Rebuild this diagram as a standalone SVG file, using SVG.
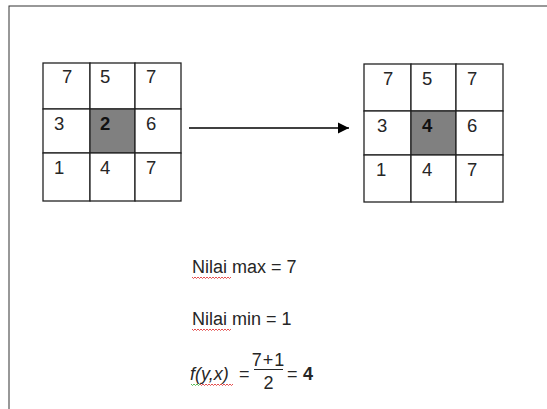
<svg xmlns="http://www.w3.org/2000/svg" width="547" height="409" viewBox="0 0 547 409">
<style>
.cell{fill:#fff;stroke:#222;stroke-width:1.3}
.shade{fill:#808080;stroke:#222;stroke-width:1.3}
.n{font-family:"Liberation Sans",Arial,sans-serif;font-size:18.5px;fill:#262626}
.b{font-weight:bold;fill:#111}
.t{font-family:"Liberation Sans",Arial,sans-serif;font-size:18px;fill:#262626}
.sq{fill:none;stroke:#d22;stroke-width:0.8}
</style>
<defs>
<marker id="ah" markerWidth="12" markerHeight="12" refX="11" refY="6" orient="auto" markerUnits="userSpaceOnUse">
<path d="M0,0.5 L11,6 L0,11.5 Z" fill="#000"/>
</marker>
</defs>
<rect x="0" y="0" width="547" height="409" fill="#fff"/>
<rect x="9" y="6" width="600" height="450" fill="none" stroke="#333" stroke-width="1"/>

<g id="grid-left">
<rect class="cell" x="43" y="63" width="47" height="46"/>
<rect class="cell" x="90" y="63" width="45" height="46"/>
<rect class="cell" x="135" y="63" width="46" height="46"/>
<rect class="cell" x="43" y="109" width="47" height="44"/>
<rect class="shade" x="90" y="109" width="45" height="44"/>
<rect class="cell" x="135" y="109" width="46" height="44"/>
<rect class="cell" x="43" y="153" width="47" height="48"/>
<rect class="cell" x="90" y="153" width="45" height="48"/>
<rect class="cell" x="135" y="153" width="46" height="48"/>
<text class="n" x="62" y="83">7</text>
<text class="n" x="100" y="83">5</text>
<text class="n" x="146" y="83">7</text>
<text class="n" x="54" y="130">3</text>
<text class="n b" x="100" y="130">2</text>
<text class="n" x="146" y="130">6</text>
<text class="n" x="54" y="174">1</text>
<text class="n" x="100" y="174">4</text>
<text class="n" x="146" y="174">7</text>
</g>

<g id="grid-right">
<rect class="cell" x="364" y="64" width="47" height="47"/>
<rect class="cell" x="411" y="64" width="45" height="47"/>
<rect class="cell" x="456" y="64" width="47" height="47"/>
<rect class="cell" x="364" y="111" width="47" height="44"/>
<rect class="shade" x="411" y="111" width="45" height="44"/>
<rect class="cell" x="456" y="111" width="47" height="44"/>
<rect class="cell" x="364" y="155" width="47" height="47"/>
<rect class="cell" x="411" y="155" width="45" height="47"/>
<rect class="cell" x="456" y="155" width="47" height="47"/>
<text class="n" x="383" y="85">7</text>
<text class="n" x="422" y="85">5</text>
<text class="n" x="467" y="85">7</text>
<text class="n" x="377" y="132">3</text>
<text class="n b" x="422" y="132">4</text>
<text class="n" x="467" y="132">6</text>
<text class="n" x="376" y="176">1</text>
<text class="n" x="422" y="176">4</text>
<text class="n" x="467" y="176">7</text>
</g>

<g id="connectors">
<line x1="189" y1="128" x2="349" y2="128" stroke="#000" stroke-width="1.3" marker-end="url(#ah)"/>
</g>

<g id="text">
<text class="t" x="192" y="273">Nilai max = 7</text>
<path class="sq" d="M192,277 l1.5,1.5 l1.5,-1.5 l1.5,1.5 l1.5,-1.5 l1.5,1.5 l1.5,-1.5 l1.5,1.5 l1.5,-1.5 l1.5,1.5 l1.5,-1.5 l1.5,1.5 l1.5,-1.5 l1.5,1.5 l1.5,-1.5 l1.5,1.5 l1.5,-1.5 l1.5,1.5 l1.5,-1.5 l1.5,1.5 l1.5,-1.5 l1.5,1.5 l1.5,-1.5 l1.5,1.5 l1.5,-1.5 l1.5,1.5 l1.5,-1.5"/>
<text class="t" x="192" y="325">Nilai min = 1</text>
<path class="sq" d="M192,329 l1.5,1.5 l1.5,-1.5 l1.5,1.5 l1.5,-1.5 l1.5,1.5 l1.5,-1.5 l1.5,1.5 l1.5,-1.5 l1.5,1.5 l1.5,-1.5 l1.5,1.5 l1.5,-1.5 l1.5,1.5 l1.5,-1.5 l1.5,1.5 l1.5,-1.5 l1.5,1.5 l1.5,-1.5 l1.5,1.5 l1.5,-1.5 l1.5,1.5 l1.5,-1.5 l1.5,1.5 l1.5,-1.5 l1.5,1.5 l1.5,-1.5"/>
<text class="t" x="190" y="380" font-style="italic">f(y,x)</text>
<path fill="none" stroke="#3a3" stroke-width="0.8" d="M191,384 l1.5,1.5 l1.5,-1.5 l1.5,1.5 l1.5,-1.5 l1.5,1.5 l1.5,-1.5"/>
<path class="sq" d="M200,384 l1.5,1.5 l1.5,-1.5 l1.5,1.5 l1.5,-1.5 l1.5,1.5 l1.5,-1.5 l1.5,1.5 l1.5,-1.5 l1.5,1.5 l1.5,-1.5 l1.5,1.5 l1.5,-1.5 l1.5,1.5 l1.5,-1.5 l1.5,1.5 l1.5,-1.5 l1.5,1.5 l1.5,-1.5 l1.5,1.5 l1.5,-1.5 l1.5,1.5 l1.5,-1.5"/>
<text class="t" x="239" y="380">=</text>
<text class="t" x="268.5" y="366" font-size="11.5" text-anchor="middle" letter-spacing="1">7+1</text>
<line x1="254" y1="369.5" x2="283" y2="369.5" stroke="#262626" stroke-width="1"/>
<text class="t" x="268.5" y="389" font-size="11" text-anchor="middle">2</text>
<text class="t" x="287" y="380">=</text>
<text class="t b" x="303" y="380" font-size="19">4</text>
</g>
</svg>
